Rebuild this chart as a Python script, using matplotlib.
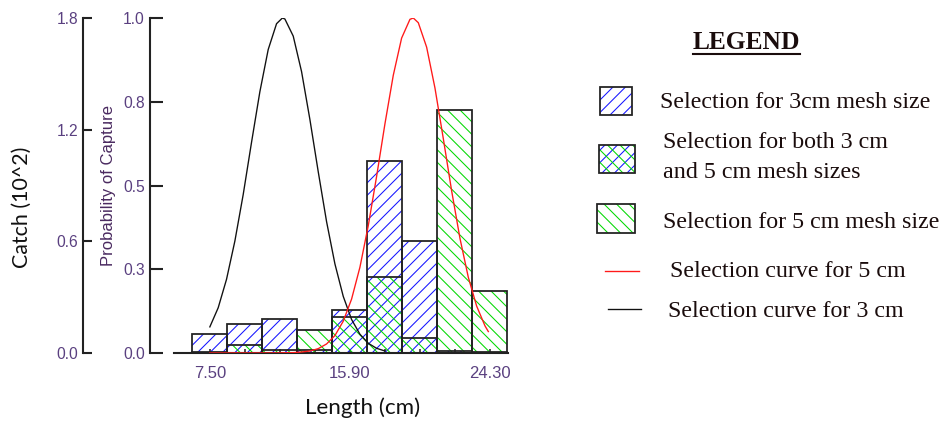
import matplotlib
matplotlib.use('Agg')
import matplotlib.pyplot as plt
from matplotlib.patches import Rectangle
from matplotlib.lines import Line2D

# ---------------- data ----------------
length_bins = [7.5, 9.6, 11.7, 13.8, 15.9, 18.0, 20.1, 22.2, 24.3]
catch_3cm = [0.102, 0.158, 0.183, 0.014, 0.233, 1.033, 0.603, 0.012, 0.007]
catch_5cm = [0.003, 0.041, 0.018, 0.125, 0.191, 0.410, 0.081, 1.306, 0.333]

curve3_x = [7.5, 8.0, 8.5, 9.0, 9.5, 10.0, 10.5, 11.0, 11.5, 11.85, 12.0, 12.5,
            13.0, 13.5, 14.0, 14.5, 15.0, 15.5, 16.0, 16.5, 17.0, 17.5, 18.0]
curve3_p = [0.078, 0.135, 0.220, 0.334, 0.473, 0.629, 0.780, 0.906, 0.983, 1.0,
            0.997, 0.946, 0.840, 0.697, 0.541, 0.392, 0.266, 0.169, 0.100, 0.056,
            0.029, 0.014, 0.006]

curve5_x = [7.5, 8.5, 9.5, 10.5, 11.5, 12.5, 13.0, 13.5, 14.0, 14.5, 15.0, 15.5,
            16.0, 16.5, 17.0, 17.5, 18.0, 18.5, 19.0, 19.5, 19.7, 20.0, 20.5,
            21.0, 21.5, 22.0, 22.5, 23.0, 23.5, 24.0, 24.2]
curve5_p = [0.0, 0.0, 0.0, 0.0, 0.0, 0.001, 0.003, 0.006, 0.013, 0.027, 0.052,
            0.095, 0.161, 0.256, 0.380, 0.527, 0.684, 0.829, 0.940, 0.996, 1.0,
            0.986, 0.913, 0.791, 0.640, 0.484, 0.342, 0.226, 0.140, 0.081, 0.064]

x_tick_vals = [7.5, 15.9, 24.3]
x_tick_labels = ["7.50", "15.90", "24.30"]
catch_ticks = [0.0, 0.6, 1.2, 1.8]
catch_tick_labels = ["0.0", "0.6", "1.2", "1.8"]
prob_ticks = [0.0, 0.25, 0.5, 0.75, 1.0]
prob_tick_labels = ["0.0", "0.3", "0.5", "0.8", "1.0"]

legend_labels = ["Selection for 3cm mesh size",
                 "Selection for both 3 cm",
                 "and 5 cm mesh sizes",
                 "Selection for 5 cm mesh size",
                 "Selection curve for 5 cm",
                 "Selection curve for 3 cm"]

# ---------------- style ----------------
plt.rcParams['hatch.linewidth'] = 1.0
DPI = 75
W, H = 945, 425
BLUE = '#1414ff'
GREEN = '#00d800'
RED = '#ff1a1a'
EDGE = '#222222'
TICKC = '#5a4080'
BAR_W = 2.1
H3 = '//'
H5 = '\\\\'

fig = plt.figure(figsize=(W / DPI, H / DPI), dpi=DPI)
L, R, T, B = 174, 508, 18, 353
ax = fig.add_axes([L / W, 1 - B / H, (R - L) / W, (B - T) / H])
ax.set_xlim(5.35, 25.38)
ax.set_ylim(0, 1.8)

# hatched fills
ax.bar(length_bins, catch_3cm, width=BAR_W, facecolor='none', edgecolor=BLUE,
       hatch=H3, linewidth=0, zorder=2)
ax.bar(length_bins, catch_5cm, width=BAR_W, facecolor='none', edgecolor=GREEN,
       hatch=H5, linewidth=0, zorder=2)
# outlines
ax.bar(length_bins, catch_3cm, width=BAR_W, facecolor='none', edgecolor=EDGE,
       linewidth=1.7, zorder=3)
ax.bar(length_bins, catch_5cm, width=BAR_W, facecolor='none', edgecolor=EDGE,
       linewidth=1.7, zorder=3)

for s in ['top', 'right']:
    ax.spines[s].set_visible(False)
ax.spines['left'].set_position(('axes', (83 - L) / (R - L)))
ax.spines['left'].set_linewidth(2)
ax.spines['left'].set_color(EDGE)
ax.spines['bottom'].set_linewidth(2)
ax.spines['bottom'].set_color(EDGE)
ax.set_yticks(catch_ticks, catch_tick_labels)
ax.tick_params(axis='y', direction='in', length=8.5, width=2, color=EDGE,
               labelsize=15, labelcolor=TICKC, pad=4.5)
ax.set_xticks(x_tick_vals, x_tick_labels)
ax.set_xticks(length_bins, minor=True)
ax.tick_params(axis='x', which='both', direction='in', length=4, width=1.5,
               color=EDGE, labelsize=16, labelcolor=TICKC, pad=12)
for lab in ax.get_xticklabels() + ax.get_yticklabels():
    lab.set_family('Liberation Sans')

ax2 = ax.twinx()
ax2.set_ylim(0, 1.0)
ax2.yaxis.tick_left()
for s in ['top', 'right', 'bottom']:
    ax2.spines[s].set_visible(False)
ax2.spines['left'].set_visible(True)
ax2.spines['left'].set_position(('axes', (150 - L) / (R - L)))
ax2.spines['left'].set_linewidth(2)
ax2.spines['left'].set_color(EDGE)
ax2.set_yticks(prob_ticks, prob_tick_labels)
ax2.tick_params(axis='y', direction='in', length=12.5, width=2, color=EDGE,
                labelsize=15, labelcolor=TICKC, pad=5)
for lab in ax2.get_yticklabels():
    lab.set_family('Liberation Sans')

ax2.plot(curve3_x, curve3_p, color='#111111', lw=1.3, zorder=4)
ax2.plot(curve5_x, curve5_p, color=RED, lw=1.3, zorder=4)

# axis titles
fig.text(22 / W, 1 - 207 / H, 'Catch (10^2)', rotation=90, ha='center',
         va='center', fontsize=20.5, family='Lato', color='#111111')
fig.text(363 / W, 1 - 408 / H, 'Length (cm)', ha='center', va='center',
         fontsize=21.5, family='Lato', color='#111111')
fig.text(109 / W, 1 - 185 / H, 'Probability of Capture', rotation=90,
         ha='center', va='center', fontsize=16, family='Liberation Sans',
         color='#4a2a60')

# ---------------- legend (pixel overlay) ----------------
lg = fig.add_axes([0, 0, 1, 1])
lg.set_xlim(0, W)
lg.set_ylim(H, 0)
lg.axis('off')
lg.patch.set_visible(False)

TXT = '#1a0c0c'
lg.text(746.5, 42, 'LEGEND', ha='center', va='center', fontsize=24.5,
        family='Liberation Serif', weight='bold', color=TXT)
lg.add_line(Line2D([693, 800], [54, 54], color=TXT, lw=2))

def hbox(x, y, w, h, hatches):
    for hch, col in hatches:
        lg.add_patch(Rectangle((x, y), w, h, facecolor='none', edgecolor=col,
                               hatch=hch, linewidth=0))
    lg.add_patch(Rectangle((x, y), w, h, facecolor='none', edgecolor=EDGE,
                           linewidth=1.7))

hbox(600, 87, 32, 28, [(H3, BLUE)])
hbox(599, 145, 36, 28, [(H3, BLUE), (H5, GREEN)])
hbox(597, 204, 38, 29, [(H5, GREEN)])
lg.add_line(Line2D([605, 639], [271, 271], color=RED, lw=1.3))
lg.add_line(Line2D([608, 641], [309, 309], color='#111111', lw=1.3))

text_pos = [(660, 100), (663, 140), (663, 170), (663, 220), (670, 269), (668, 309)]
for (tx, ty), s in zip(text_pos, legend_labels):
    lg.text(tx, ty, s, ha='left', va='center_baseline', fontsize=23,
            family='Liberation Serif', color=TXT)

fig.savefig('out.png', dpi=DPI)
